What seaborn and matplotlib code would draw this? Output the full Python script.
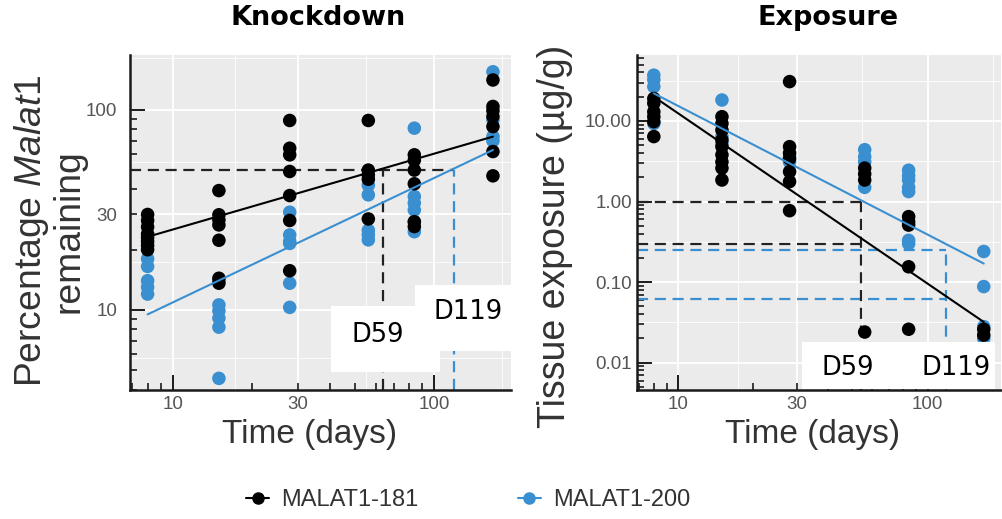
import matplotlib
matplotlib.use("Agg")
import matplotlib.pyplot as plt
import matplotlib.ticker as mticker
from matplotlib.lines import Line2D
from matplotlib.patches import Rectangle
import numpy as np
import pandas as pd
import seaborn as sns

# sampling days (one column of dots per day)
days = [8, 15, 28, 56, 84, 168]
compounds = ['MALAT1-181', 'MALAT1-200']
colors = {'MALAT1-181': '#000000', 'MALAT1-200': '#3a8fd0'}

# Knockdown: percentage Malat1 remaining, one list per day
kd_181 = [[30, 28, 26, 24, 23, 22, 21, 20],
          [39.5, 29.9, 28.2, 26.6, 22.3, 14.4, 13.6],
          [88.5, 64.3, 59.6, 49.2, 37.3, 28, 15.7],
          [88.5, 50, 47.3, 45, 28.5],
          [59.6, 56, 50, 42.7, 27.6, 26.1],
          [141, 104, 99, 92.6, 82.5, 61.9, 46.8]]
kd_200 = [[18, 16.5, 14, 13, 12],
          [14, 10.6, 9.9, 9.1, 8.2, 4.55],
          [30.8, 23.7, 22, 21.5, 13.6, 10.3],
          [42, 37.6, 25, 23.7, 22.4],
          [81, 36.9, 34.2, 31.6, 27.6, 24.6],
          [155, 89, 73.5, 70]]

# Exposure: tissue exposure (ug/g), one list per day
exp_181 = [[19, 16.6, 13, 11.3, 9.8, 6.4],
           [11.3, 9.3, 7.7, 5.8, 4.8, 3.8, 3.1, 2.6, 1.85],
           [30.8, 4.8, 4.0, 3.4, 2.35, 1.77, 0.77],
           [2.6, 2.2, 1.85, 0.024],
           [0.65, 0.56, 0.51, 0.155, 0.026],
           [0.026, 0.022]]
exp_200 = [[37, 32.4, 26.7, 9.3],
           [18.2, 6.4, 5.3],
           [3.1, 3.6],
           [4.4, 3.6, 3.1, 1.5],
           [2.45, 2.1, 1.85, 1.5, 1.33, 0.33, 0.3],
           [0.24, 0.088, 0.028, 0.02]]

# fitted lines (value at first and last day)
fit_days = [8, 168]
kd_fit_181 = [23.2, 73.5]
kd_fit_200 = [9.5, 63]
exp_fit_181 = [20, 0.032]
exp_fit_200 = [22, 0.17]

# reference (dashed) lines
kd_level = 50
kd_cut_days = [64, 119]          # 181, 200
exp_cut_days = [54, 119]         # 181, 200
exp_levels_181 = [1.0, 0.30]
exp_levels_200 = [0.25, 0.062]

x_breaks = [10, 30, 100]
kd_breaks = [10, 30, 100]
exp_breaks = [0.01, 0.1, 1, 10]


def to_frame(values, name, xs=days):
    rows = [(d, v, name) for d, vs in zip(xs, values) for v in vs]
    return pd.DataFrame(rows, columns=['day', 'value', 'compound'])


kd_df = pd.concat([to_frame(kd_200, 'MALAT1-200'), to_frame(kd_181, 'MALAT1-181')], ignore_index=True)
exp_df = pd.concat([to_frame(exp_200, 'MALAT1-200'), to_frame(exp_181, 'MALAT1-181')], ignore_index=True)
kd_fit = pd.concat([to_frame([[v] for v in kd_fit_181], 'MALAT1-181', fit_days),
                    to_frame([[v] for v in kd_fit_200], 'MALAT1-200', fit_days)], ignore_index=True)
exp_fit = pd.concat([to_frame([[v] for v in exp_fit_181], 'MALAT1-181', fit_days),
                     to_frame([[v] for v in exp_fit_200], 'MALAT1-200', fit_days)], ignore_index=True)

sns.set_style("darkgrid", {'axes.facecolor': '#EBEBEB'})
plt.rcParams['font.family'] = ['Liberation Sans', 'DejaVu Sans']
plt.rcParams['mathtext.fontset'] = 'custom'
plt.rcParams['mathtext.rm'] = 'Liberation Sans'
plt.rcParams['mathtext.it'] = 'Liberation Sans:italic'

W, H = 1003, 519
fig = plt.figure(figsize=(W / 100, H / 100), dpi=100)
ax1 = fig.add_axes([130 / W, 1 - 390 / H, 381 / W, 335 / H])
ax2 = fig.add_axes([637 / W, 1 - 390 / H, 364 / W, 335 / H])


def minor_breaks(breaks):
    lb = np.log10(breaks)
    ext = np.concatenate([[lb[0] - (lb[1] - lb[0])], lb, [lb[-1] + (lb[-1] - lb[-2])]])
    return 10 ** ((ext[:-1] + ext[1:]) / 2)


def style_axis(ax, xlim, ylim, ybreaks, yfmt, label_30_on_y, ypad):
    ax.set_xscale('log')
    ax.set_yscale('log')
    ax.set_xlim(*xlim)
    ax.set_ylim(*ylim)
    ax.grid(False)
    # ggplot-like grid: major lines at the breaks, thin ones half way between
    for v in x_breaks:
        ax.axvline(v, color='white', lw=1.3, zorder=0.5)
    for v in minor_breaks(x_breaks):
        ax.axvline(v, color='white', lw=0.6, zorder=0.5)
    for v in ybreaks:
        ax.axhline(v, color='white', lw=1.3, zorder=0.5)
    for v in minor_breaks(ybreaks):
        ax.axhline(v, color='white', lw=0.6, zorder=0.5)

    only_30 = mticker.FuncFormatter(lambda v, p: '30' if abs(v - 30) < 1e-6 else '')
    ax.xaxis.set_major_locator(mticker.LogLocator(base=10, numticks=20))
    ax.xaxis.set_minor_locator(mticker.LogLocator(base=10, subs=np.arange(2, 10), numticks=40))
    ax.xaxis.set_major_formatter(mticker.FuncFormatter(lambda v, p: f'{v:g}'))
    ax.xaxis.set_minor_formatter(only_30)
    ax.yaxis.set_major_locator(mticker.LogLocator(base=10, numticks=20))
    ax.yaxis.set_minor_locator(mticker.LogLocator(base=10, subs=np.arange(2, 10), numticks=40))
    ax.yaxis.set_major_formatter(mticker.FuncFormatter(yfmt))
    if label_30_on_y:
        ax.yaxis.set_minor_formatter(only_30)
    else:
        ax.yaxis.set_minor_formatter(mticker.NullFormatter())

    ax.tick_params(which='major', direction='in', length=11, width=1.4, color='#1a1a1a',
                   labelsize=13.5, labelcolor='#555555')
    ax.tick_params(which='minor', direction='in', length=5, width=1.2, color='#1a1a1a',
                   labelsize=13.5, labelcolor='#555555')
    ax.tick_params(axis='x', which='both', pad=4, bottom=True)
    ax.tick_params(axis='y', which='both', pad=ypad, left=True)
    for s in ['top', 'right']:
        ax.spines[s].set_visible(False)
    for s in ['left', 'bottom']:
        ax.spines[s].set_visible(True)
        ax.spines[s].set_color('#1a1a1a')
        ax.spines[s].set_linewidth(1.8)


dash = (0, (5, 3))
blue = colors['MALAT1-200']

# Knockdown panel
style_axis(ax1, (6.85, 197), (3.98, 188), kd_breaks, lambda v, p: f'{v:g}', True, 9)
y0 = ax1.get_ylim()[0]
ax1.hlines(kd_level, ax1.get_xlim()[0], kd_cut_days[1], color='#222222', lw=1.6, ls=dash, zorder=2)
ax1.vlines(kd_cut_days[0], y0, kd_level, color='#222222', lw=1.6, ls=dash, zorder=2)
ax1.vlines(kd_cut_days[1], y0, kd_level, color=blue, lw=1.6, ls=dash, zorder=2)
sns.scatterplot(data=kd_df, x='day', y='value', hue='compound', palette=colors, s=95,
                linewidth=0, legend=False, ax=ax1, zorder=3)
sns.lineplot(data=kd_fit, x='day', y='value', hue='compound', palette=colors, lw=1.5,
             legend=False, ax=ax1, zorder=4)
ax1.set_xlabel('')
ax1.set_ylabel('')

# Exposure panel
style_axis(ax2, (6.85, 197), (0.00458, 65.9), exp_breaks, lambda v, p: f'{v:.2f}', False, 3.5)
y0 = ax2.get_ylim()[0]
x0 = ax2.get_xlim()[0]
ax2.hlines(exp_levels_181, x0, exp_cut_days[0], color='#222222', lw=1.6, ls=dash, zorder=2)
ax2.hlines(exp_levels_200, x0, exp_cut_days[1], color=blue, lw=1.6, ls=dash, zorder=2)
ax2.vlines(exp_cut_days[0], y0, exp_levels_181[0], color='#222222', lw=1.6, ls=dash, zorder=2)
ax2.vlines(exp_cut_days[1], y0, exp_levels_200[0], color=blue, lw=1.6, ls=dash, zorder=2)
sns.scatterplot(data=exp_df, x='day', y='value', hue='compound', palette=colors, s=95,
                linewidth=0, legend=False, ax=ax2, zorder=3)
sns.lineplot(data=exp_fit, x='day', y='value', hue='compound', palette=colors, lw=1.5,
             legend=False, ax=ax2, zorder=4)
ax2.set_xlabel('')
ax2.set_ylabel('')

# titles and axis labels
fig.text(318 / W, 1 - 18 / H, 'Knockdown', family='DejaVu Sans', weight='bold', fontsize=19.5,
         color='black', ha='center', va='center')
fig.text(828 / W, 1 - 18 / H, 'Exposure', family='DejaVu Sans', weight='bold', fontsize=19.5,
         color='black', ha='center', va='center')
fig.text(310 / W, 1 - 435 / H, 'Time (days)', fontsize=24, color='#333333', ha='center', va='center')
fig.text(813 / W, 1 - 435 / H, 'Time (days)', fontsize=24, color='#333333', ha='center', va='center')
fig.text(49 / W, 1 - 231 / H, 'Percentage $\\mathit{Malat1}$\nremaining', fontsize=26.8, color='#333333',
         rotation=90, ha='center', va='center', linespacing=1.02, multialignment='center')
fig.text(555 / W, 1 - 236 / H, 'Tissue exposure (\u00b5g/g)', fontsize=27, color='#333333',
         rotation=90, ha='center', va='center')

# white label boxes pasted over the panels
for (bx0, by0, bx1, by1) in [(415, 285, 512, 351), (331, 306, 440, 372), (802, 342, 995, 389)]:
    fig.add_artist(Rectangle((bx0 / W, 1 - by1 / H), (bx1 - bx0) / W, (by1 - by0) / H,
                             transform=fig.transFigure, facecolor='white', edgecolor='none', zorder=5))
for (tx, ty, s) in [(377.5, 335, 'D59'), (468, 312, 'D119'), (848, 368, 'D59'), (956, 368, 'D119')]:
    fig.text(tx / W, 1 - ty / H, s, family='DejaVu Sans', fontsize=18.5, color='black',
             ha='center', va='center', zorder=6)

# legend
handles = [Line2D([], [], color=colors[c], marker='o', markersize=8, lw=1.5) for c in compounds]
fig.legend(handles, compounds, loc='center', bbox_to_anchor=(468 / W, 1 - 500 / H), ncol=2,
           frameon=False, fontsize=17, handlelength=1.0, handletextpad=0.5, columnspacing=4.2,
           labelcolor='#333333')

fig.savefig('out.png', dpi=100)
